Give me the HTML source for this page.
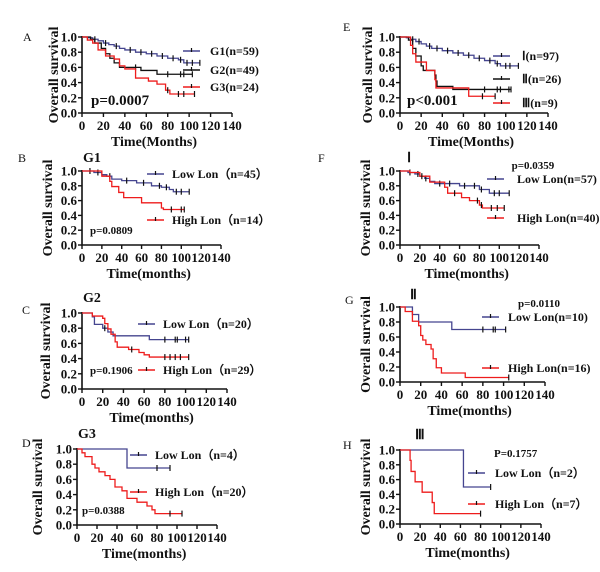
<!DOCTYPE html>
<html><head><meta charset="utf-8"><style>
body{margin:0;background:#fff;width:600px;height:567px;overflow:hidden}
svg text{font-family:"Liberation Serif",serif;font-weight:bold;fill:#111}
</style></head><body>
<svg id="fig" width="600" height="567" xmlns="http://www.w3.org/2000/svg"></svg>
<script>
// ---- data (months, survival) ----
const xTicks=[0,20,40,60,80,100,120,140];
const yTicks=[0,0.2,0.4,0.6,0.8,1.0];
const yTickLabels=["0.0","0.2","0.4","0.6","0.8","1.0"];
// A
const aG1T=[5,10,15,20,25,30,35,40,50,60,70,80,90,95], aG1S=[0.99,0.97,0.95,0.92,0.9,0.88,0.85,0.83,0.8,0.78,0.75,0.72,0.7,0.66], aG1C=[12,22,32,45,55,65,75,85,92,98,103,110];
const aG2T=[8,12,18,22,26,30,35,55,70], aG2S=[0.97,0.92,0.85,0.78,0.72,0.66,0.6,0.56,0.51], aG2C=[50,80,92,95,103];
const aG3T=[5,10,15,22,30,35,40,50,62,70,78,82], aG3S=[0.96,0.92,0.83,0.75,0.71,0.62,0.58,0.46,0.42,0.38,0.3,0.25], aG3C=[80,90,95,105];
// E
const eIT=[6,10,15,20,25,30,40,50,60,70,80,90,95], eIS=[0.99,0.97,0.94,0.91,0.88,0.85,0.82,0.79,0.76,0.72,0.69,0.65,0.62], eIC=[12,18,28,35,45,55,65,75,85,92,100,104,112];
const eIIT=[8,12,15,20,22,33,34,35,50], eIIS=[0.96,0.85,0.75,0.62,0.56,0.5,0.42,0.35,0.31], eIIC=[80,92,95,103,105];
const eIIIT=[10,12,15,25,33,34,65], eIIIS=[0.89,0.78,0.67,0.56,0.44,0.33,0.22], eIIIC=[78,90];
// B
const bLowT=[12,20,25,30,40,55,70,80,88,92], bLowS=[0.98,0.95,0.93,0.89,0.87,0.84,0.8,0.78,0.75,0.72], bLowC=[8,16,28,45,62,78,85,95,100,108];
const bHighT=[20,28,30,37,42,60,80,82], bHighS=[0.93,0.86,0.79,0.71,0.64,0.57,0.5,0.48], bHighC=[90,100,103];
// F
const fLowT=[8,15,20,25,30,35,60,80,90], fLowS=[0.98,0.96,0.93,0.9,0.86,0.83,0.8,0.75,0.7], fLowC=[10,18,26,40,50,65,75,82,95,100,110];
const fHighT=[10,20,30,45,48,62,70,80,83], fHighS=[0.98,0.93,0.85,0.78,0.7,0.64,0.6,0.54,0.5], fHighC=[22,55,78,82,92,98,105];
// C
const cLowT=[10,12,20,25,30,65], cLowS=[0.95,0.85,0.8,0.75,0.7,0.65], cLowC=[22,80,90,92,100,103];
const cHighT=[10,20,22,25,28,32,34,45,55,60,65], cHighS=[0.96,0.93,0.86,0.79,0.72,0.62,0.55,0.52,0.48,0.45,0.42], cHighC=[48,80,85,90,95,103];
// G
const gLowT=[12,18,50], gLowS=[0.9,0.8,0.7], gLowC=[80,90,92,102];
const gHighT=[5,12,18,20,22,25,30,32,35,40,63], gHighS=[0.94,0.81,0.75,0.62,0.56,0.5,0.44,0.31,0.19,0.12,0.06], gHighC=[105];
// D
const dLowT=[50], dLowS=[0.75], dLowC=[80,93];
const dHighT=[5,8,15,18,22,28,33,38,45,50,60,70,75,78], dHighS=[0.95,0.9,0.8,0.75,0.7,0.65,0.6,0.5,0.45,0.35,0.3,0.25,0.2,0.15], dHighC=[93,105];
// H
const hLowT=[63], hLowS=[0.5], hLowC=[90];
const hHighT=[10,11,15,22,32,34], hHighS=[0.86,0.71,0.57,0.43,0.29,0.14], hHighC=[80];

const BLUE="#45458f", RED="#ee1c1c", BLACK="#111";
const svg=document.getElementById('fig');
const NS="http://www.w3.org/2000/svg";
function mk(tag,attrs,parent,txt){const e=document.createElementNS(NS,tag);for(const k in attrs)e.setAttribute(k,attrs[k]);if(txt!==undefined)e.textContent=txt;(parent||svg).appendChild(e);return e;}
function survAt(T,S,t){let s=1;for(let i=0;i<T.length;i++){if(T[i]<=t)s=S[i];}return s;}

const panels=[
 {id:"a",letter:"A",lx:23,ly:41,x0:82,yb:113,w:150,h:76,ytx:58,title:"Time(Months)",sub:null,p:"p=0.0007",px:91,py:105,pfs:15,
  series:[[aG1T,aG1S,aG1C,BLUE,110,"G1(n=59)",183,51,210],[aG2T,aG2S,aG2C,BLACK,103,"G2(n=49)",183,70,210],[aG3T,aG3S,aG3C,RED,105,"G3(n=24)",183,87,210]]},
 {id:"e",letter:"E",lx:343,ly:31,x0:400,yb:113,w:148,h:76,ytx:372,title:"Time(Months)",sub:null,p:"p<0.001",px:407,py:105,pfs:15,
  series:[[eIT,eIS,eIC,BLUE,112,"Ⅰ(n=97)",493,56,522],[eIIT,eIIS,eIIC,BLACK,105,"Ⅱ(n=26)",493,79,522],[eIIIT,eIIIS,eIIIC,RED,90,"Ⅲ(n=9)",493,103,522]]},
 {id:"b",letter:"B",lx:18,ly:162,x0:82,yb:245,w:139,h:74,ytx:52,title:"Time(months)",sub:["G1",83,162],p:"p=0.0809",px:90,py:234,pfs:11,
  series:[[bLowT,bLowS,bLowC,BLUE,108,"Low Lon（n=45）",147,174,172],[bHighT,bHighS,bHighC,RED,103,"High Lon（n=14）",147,220,172]]},
 {id:"f",letter:"F",lx:318,ly:162,x0:400,yb:245,w:139,h:74,ytx:370,title:"Time(months)",sub:["Ⅰ",407,162],p:"p=0.0359",px:533,py:169,pfs:11,pmid:true,
  series:[[fLowT,fLowS,fLowC,BLUE,110,"Low Lon(n=57)",487,179,517],[fHighT,fHighS,fHighC,RED,105,"High Lon(n=40)",487,218,517]]},
 {id:"c",letter:"C",lx:22,ly:314,x0:82,yb:389,w:145,h:76,ytx:50,title:"Time(months)",sub:["G2",83,302],p:"p=0.1906",px:90,py:374,pfs:11,
  series:[[cLowT,cLowS,cLowC,BLUE,103,"Low Lon（n=20）",138,324,163],[cHighT,cHighS,cHighC,RED,103,"High Lon（n=29）",138,370,163]]},
 {id:"g",letter:"G",lx:345,ly:304,x0:400,yb:382,w:145,h:75,ytx:370,title:"Time(months)",sub:["Ⅱ",410,299],p:"p=0.0110",px:539,py:307,pfs:11,pmid:true,
  series:[[gLowT,gLowS,gLowC,BLUE,102,"Low Lon(n=10)",482,317,508],[gHighT,gHighS,gHighC,RED,105,"High Lon(n=16)",482,368,508]]},
 {id:"d",letter:"D",lx:22,ly:447,x0:77,yb:525,w:140,h:76,ytx:42,title:"Time(months)",sub:["G3",78,438],p:"p=0.0388",px:82,py:514,pfs:11,
  series:[[dLowT,dLowS,dLowC,BLUE,93,"Low Lon（n=4）",130,455,155],[dHighT,dHighS,dHighC,RED,105,"High Lon（n=20）",130,492,155]]},
 {id:"h",letter:"H",lx:343,ly:449,x0:400,yb:524,w:141,h:74,ytx:370,title:"Time(months)",sub:["Ⅲ",415,439],p:"P=0.1757",px:494,py:457,pfs:11,
  series:[[hLowT,hLowS,hLowC,BLUE,90,"Low Lon（n=2）",468,473,495],[hHighT,hHighS,hHighC,RED,80,"High Lon（n=7）",468,504,495]]}
];

panels.forEach(P=>{
  const g=mk('g',{});
  
  
  const X=t=>P.x0+t/140*P.w, Y=s=>P.yb-s*P.h;
  const lt=mk('text',{x:P.lx,y:P.ly,'font-size':12,style:'font-weight:normal'},g,P.letter);
  
  
  if(P.sub){const st=mk('text',{x:P.sub[1],y:P.sub[2],'font-size':14},g,P.sub[0]);
    
    }
  // axes
  const ax=mk('path',{d:`M${P.x0},${Y(1)-1}V${P.yb}H${X(140)}`,stroke:'#111','stroke-width':1.6,fill:'none'},g);
  
  
  yTicks.forEach((v,i)=>{
    mk('line',{x1:P.x0-4,x2:P.x0,y1:Y(v),y2:Y(v),stroke:'#111','stroke-width':1.4},g);
    const t=mk('text',{x:P.x0-5,y:Y(v)+4.5,'font-size':13,'text-anchor':'end'},g,yTickLabels[i]);
    
    
  });
  xTicks.forEach(v=>{
    mk('line',{x1:X(v),x2:X(v),y1:P.yb,y2:P.yb+4,stroke:'#111','stroke-width':1.4},g);
    const t=mk('text',{x:X(v),y:P.yb+17,'font-size':13,'text-anchor':'middle'},g,String(v));
    
    
  });
  const xt=mk('text',{x:P.x0+P.w*0.48,y:P.yb+33,'font-size':14,'text-anchor':'middle'},g,P.title);
  
  
  const ym=P.yb-P.h/2;
  const yt=mk('text',{x:P.ytx,y:ym,'font-size':14,'text-anchor':'middle',transform:`rotate(-90 ${P.ytx} ${ym})`},g,'Overall survival');
  
  
  const pt=mk('text',{x:P.px,y:P.py,'font-size':P.pfs,'text-anchor':P.pmid?'middle':'start'},g,P.p);
  
  
  P.series.forEach(s=>{
    const [T,S,C,col,end,lab,lgx,lgy,ltx]=s;
    let d=`M${X(0)},${Y(1)}`;let cur=1;
    T.forEach((t,i)=>{d+=`H${X(t)}V${Y(S[i])}`;cur=S[i];});
    d+=`H${X(end)}`;
    const line=mk('path',{d:d,stroke:col,'stroke-width':1.3,fill:'none'},g);
    
    
    C.forEach(c=>{const yy=Y(survAt(T,S,c));
      const m=mk('line',{x1:X(c),x2:X(c),y1:yy-3,y2:yy+3,stroke:'#111','stroke-width':1.2},g);
      
      });
    const lg=mk('g',{},g);
    
    
    mk('line',{x1:lgx,x2:lgx+17,y1:lgy,y2:lgy,stroke:col,'stroke-width':1.5},lg);
    mk('line',{x1:lgx+8.5,x2:lgx+8.5,y1:lgy-3,y2:lgy+1,stroke:'#111','stroke-width':1.2},lg);
    mk('text',{x:ltx,y:lgy+4,'font-size':12},lg,lab);
  });
});
</script>
</body></html>
